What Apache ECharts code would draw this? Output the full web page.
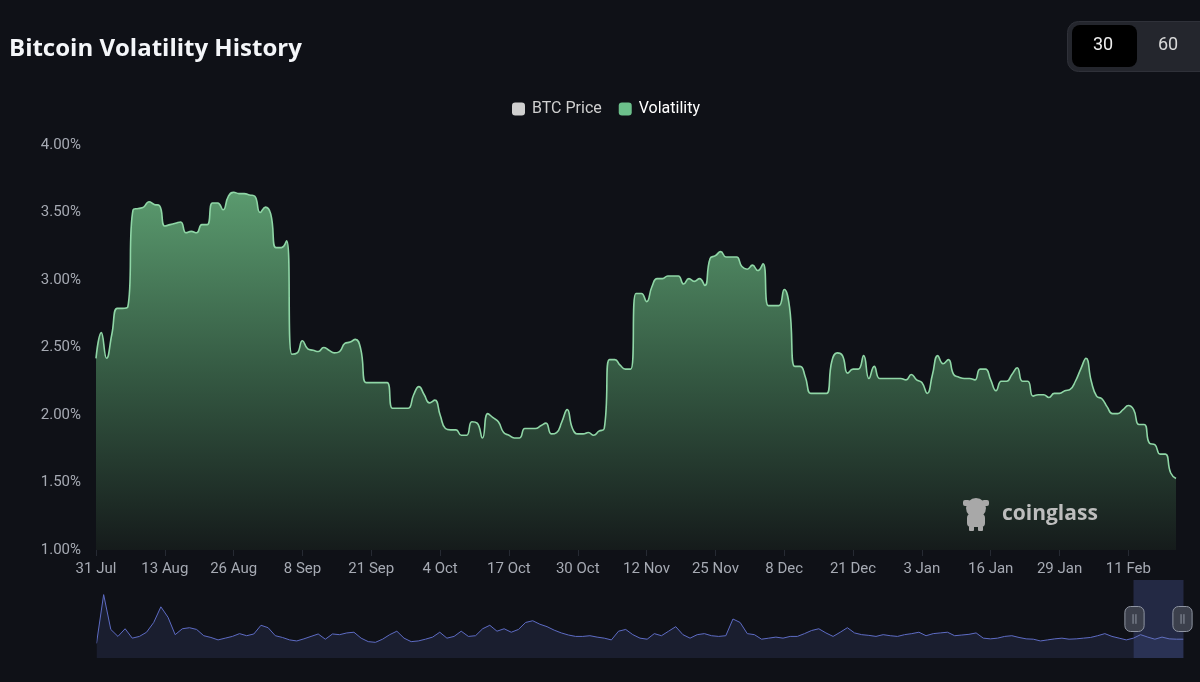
<!DOCTYPE html>
<html>
<head>
<meta charset="utf-8">
<script src="https://cdn.jsdelivr.net/npm/echarts@6/dist/echarts.min.js"></script>
<style>
html,body{margin:0;padding:0;background:#0f1117;}
#c{width:1200px;height:682px;}
</style>
</head>
<body>
<div id="c"></div>
<script>
// ---- data ----
var startDate = '2024-07-31';
var dayCount = 205;
var volatility = [
2.42,2.61,2.42,2.60,2.79,2.79,2.80,3.52,3.53,3.54,
3.58,3.56,3.55,3.40,3.41,3.42,3.43,3.35,3.36,3.35,
3.41,3.41,3.57,3.57,3.52,3.62,3.65,3.64,3.64,3.63,
3.62,3.50,3.54,3.49,3.24,3.24,3.29,2.45,2.46,2.55,
2.49,2.48,2.47,2.50,2.48,2.46,2.47,2.53,2.54,2.56,
2.49,2.24,2.24,2.24,2.24,2.24,2.05,2.05,2.05,2.05,
2.15,2.21,2.15,2.09,2.11,2.00,1.90,1.89,1.89,1.85,
1.85,1.95,1.94,1.83,2.01,1.98,1.95,1.87,1.85,1.83,
1.83,1.90,1.90,1.90,1.92,1.94,1.86,1.87,1.95,2.04,
1.90,1.86,1.86,1.87,1.85,1.88,1.90,2.41,2.41,2.37,
2.34,2.34,2.90,2.90,2.84,2.95,3.01,3.01,3.03,3.03,
3.03,2.97,3.01,2.99,3.01,2.96,3.16,3.18,3.21,3.17,
3.17,3.17,3.10,3.08,3.11,3.07,3.12,2.81,2.81,2.81,
2.93,2.80,2.36,2.36,2.28,2.16,2.16,2.16,2.16,2.40,
2.46,2.44,2.31,2.34,2.34,2.44,2.27,2.36,2.27,2.27,
2.27,2.27,2.27,2.26,2.30,2.26,2.24,2.16,2.30,2.44,
2.38,2.41,2.30,2.28,2.27,2.27,2.26,2.34,2.34,2.26,
2.18,2.25,2.25,2.30,2.35,2.25,2.25,2.14,2.15,2.15,
2.13,2.16,2.16,2.18,2.19,2.25,2.34,2.42,2.25,2.14,
2.12,2.06,2.01,2.01,2.04,2.07,2.04,1.93,1.93,1.79,
1.78,1.71,1.71,1.57,1.53
];
var btcPrice = [];
// long-run volatility history shown in the overview slider (coarse samples)
var volHistory = [
1.0,15.0,5.0,3.0,5.2,2.5,3.0,4.2,7.0,11.5,8.5,3.5,5.2,5.5,5.0,3.2,2.7,2.0,2.5,3.0,
3.8,3.2,3.7,6.2,5.5,3.2,2.7,2.0,1.7,2.3,3.0,3.7,2.2,3.7,3.5,4.0,4.2,2.5,1.5,1.3,
2.2,3.5,4.5,2.5,1.5,1.7,2.2,2.8,4.2,2.5,3.0,4.5,3.0,3.2,5.2,6.2,4.5,5.2,4.2,5.0,
7.0,7.5,6.5,5.8,4.8,4.0,3.4,3.0,3.0,3.2,2.8,2.5,2.0,4.5,5.0,3.5,2.5,2.2,3.8,3.2,
4.5,5.8,3.5,2.5,3.5,3.8,3.2,3.0,3.2,8.0,7.0,3.8,3.5,2.2,2.5,2.8,2.5,3.0,3.0,3.8,
4.7,5.2,4.0,3.0,4.2,5.5,4.0,3.5,3.3,3.0,3.5,3.2,3.0,3.5,3.8,4.2,3.2,3.8,4.0,4.2,
3.2,3.4,3.6,4.0,2.5,2.3,2.5,3.0,3.2,2.7,2.3,2.2,1.7,2.0,2.3,2.5,2.2,2.3,2.5,2.7,
3.2,3.8,3.0,2.5,2.0,2.5,3.5,2.8,2.2,2.8,2.3,2.2,2.2
];
var yTicks = {min: 1, max: 4, interval: 0.5};

// ---- categories ----
var MONTHS = ['Jan','Feb','Mar','Apr','May','Jun','Jul','Aug','Sep','Oct','Nov','Dec'];
var dates = [];
(function(){
  var d0 = new Date(startDate + 'T00:00:00Z');
  for (var i = 0; i < dayCount; i++) {
    var d = new Date(d0.getTime() + i * 86400000);
    dates.push(d.getUTCDate() + ' ' + MONTHS[d.getUTCMonth()]);
  }
})();
var historyCats = volHistory.map(function(_, i){ return 'h' + i; });

var chart = echarts.init(document.getElementById('c'), null, {renderer: 'canvas'});
var axisFont = 'Roboto, "Noto Sans", sans-serif';
var option = {
  backgroundColor: '#0f1117',
  animation: false,
  title: {
    text: 'Bitcoin Volatility History',
    left: 4, top: 32,
    textStyle: {color: '#f4f6f9', fontSize: 24, fontWeight: 'bold', fontFamily: '"Open Sans", "Noto Sans", sans-serif'}
  },
  legend: {
    data: ['BTC Price', 'Volatility'],
    selected: {'BTC Price': false, 'Volatility': true},
    left: 507, top: 96,
    icon: 'roundRect',
    itemWidth: 13, itemHeight: 13, itemGap: 17,
    inactiveColor: '#cfcfcf',
    textStyle: {color: '#ffffff', fontSize: 16, fontFamily: axisFont, padding: [0, 0, 0, 2]}
  },
  grid: [
    {left: 96, right: 24, top: 145, bottom: 132, containLabel: false},
    {left: 94, right: 19, top: 585, height: 70, show: false}
  ],
  xAxis: [
    {
      type: 'category', gridIndex: 0, data: dates, boundaryGap: false,
      axisLine: {show: false},
      axisTick: {show: true, interval: 12, alignWithLabel: true, length: 6, lineStyle: {color: '#262a33'}},
      axisLabel: {interval: 12, color: '#a6aab3', fontSize: 15, fontFamily: axisFont, margin: 12},
      splitLine: {show: false}
    },
    {type: 'category', gridIndex: 1, data: historyCats, boundaryGap: false, show: false}
  ],
  yAxis: [
    {
      type: 'value', gridIndex: 0, min: yTicks.min, max: yTicks.max, interval: yTicks.interval,
      axisLine: {show: false}, axisTick: {show: false}, splitLine: {show: false},
      axisLabel: {color: '#a6aab3', fontSize: 15, fontFamily: axisFont, margin: 15,
        formatter: function(v){ return v.toFixed(2) + '%'; }}
    },
    {type: 'value', gridIndex: 1, show: false, scale: true}
  ],
  dataZoom: [{
    type: 'slider', xAxisIndex: 1, start: 95.4, end: 100,
    left: 94, right: 19, top: 580, height: 78,
    backgroundColor: 'rgba(0,0,0,0)', borderColor: 'rgba(0,0,0,0)',
    fillerColor: 'rgba(72,86,150,0.36)',
    dataBackground: {lineStyle: {color: '#5e6cc4', width: 1, opacity: 1}, areaStyle: {color: '#1a1e2f', opacity: 1}},
    selectedDataBackground: {lineStyle: {color: '#6f7dd6', width: 1, opacity: 1}, areaStyle: {color: '#1a1e2f', opacity: 1}},
    handleIcon: 'path://M6,0 H14 A6,6 0 0 1 20,6 V20 A6,6 0 0 1 14,26 H6 A6,6 0 0 1 0,20 V6 A6,6 0 0 1 6,0 Z M8.5,8 V18 M11.5,8 V18',
    handleSize: 25,
    handleStyle: {color: '#3c404c', borderColor: '#8f95a2', borderWidth: 1},
    moveHandleSize: 0,
    showDetail: false, brushSelect: false,
    emphasis: {handleStyle: {color: '#3c404c', borderColor: '#8f95a2'}}
  }],
  series: [
    {
      name: 'BTC Price', type: 'line', xAxisIndex: 0, yAxisIndex: 0,
      data: btcPrice, showSymbol: false, itemStyle: {color: '#d9d9d9'}
    },
    {
      name: 'Volatility', type: 'line', xAxisIndex: 0, yAxisIndex: 0,
      data: volatility, smooth: true, showSymbol: false, symbol: 'none',
      itemStyle: {color: '#6cc08b'},
      lineStyle: {color: '#8fd6a6', width: 1.6},
      areaStyle: {
        opacity: 1,
        color: new echarts.graphic.LinearGradient(0, 0, 0, 1, [
          {offset: 0, color: '#5a9a6e'},
          {offset: 0.5, color: '#355a43'},
          {offset: 1, color: '#151b1b'}
        ])
      }
    },
    {
      name: 'history', type: 'line', xAxisIndex: 1, yAxisIndex: 1,
      data: volHistory, showSymbol: false, silent: true,
      lineStyle: {opacity: 0}, itemStyle: {opacity: 0}
    }
  ],
  graphic: [
    {type: 'rect', left: 1067, top: 21, shape: {width: 150, height: 50, r: 11},
     style: {fill: '#24262d', stroke: '#2f3139', lineWidth: 1}, silent: true},
    {type: 'rect', left: 1072, top: 25, shape: {width: 65, height: 42, r: 8},
     style: {fill: '#000000'}, silent: true},
    {type: 'text', left: 1093, top: 36, style: {text: '30', fill: '#eeeeee', fontSize: 18, fontFamily: axisFont}, silent: true},
    {type: 'text', left: 1158, top: 36, style: {text: '60', fill: '#d8d8d8', fontSize: 18, fontFamily: axisFont}, silent: true},
    {type: 'group', left: 963, top: 498, z: 100, silent: true, children: [
      {type: 'circle', shape: {cx: 15, cy: 11, r: 10}, style: {fill: '#a8a8a8'}, z: 100},
      {type: 'rect', shape: {x: 2, y: 3, width: 7, height: 6, r: 2}, style: {fill: '#a8a8a8'}, z: 100},
      {type: 'rect', shape: {x: 21, y: 3, width: 7, height: 6, r: 2}, style: {fill: '#a8a8a8'}, z: 100},
      {type: 'rect', shape: {x: 6, y: 17, width: 18, height: 13, r: 4}, style: {fill: '#a8a8a8'}, z: 100},
      {type: 'rect', shape: {x: 8, y: 29, width: 5, height: 5, r: 1}, style: {fill: '#a8a8a8'}, z: 100},
      {type: 'rect', shape: {x: 17, y: 29, width: 5, height: 5, r: 1}, style: {fill: '#a8a8a8'}, z: 100}
    ]},
    {type: 'text', left: 1002, top: 504, z: 100, silent: true,
     style: {text: 'coinglass', fill: '#bdbdbd', fontSize: 21, fontWeight: 'bold', fontFamily: '"Open Sans", "Noto Sans", sans-serif'}}
  ]
};
chart.setOption(option);
</script>
</body>
</html>
